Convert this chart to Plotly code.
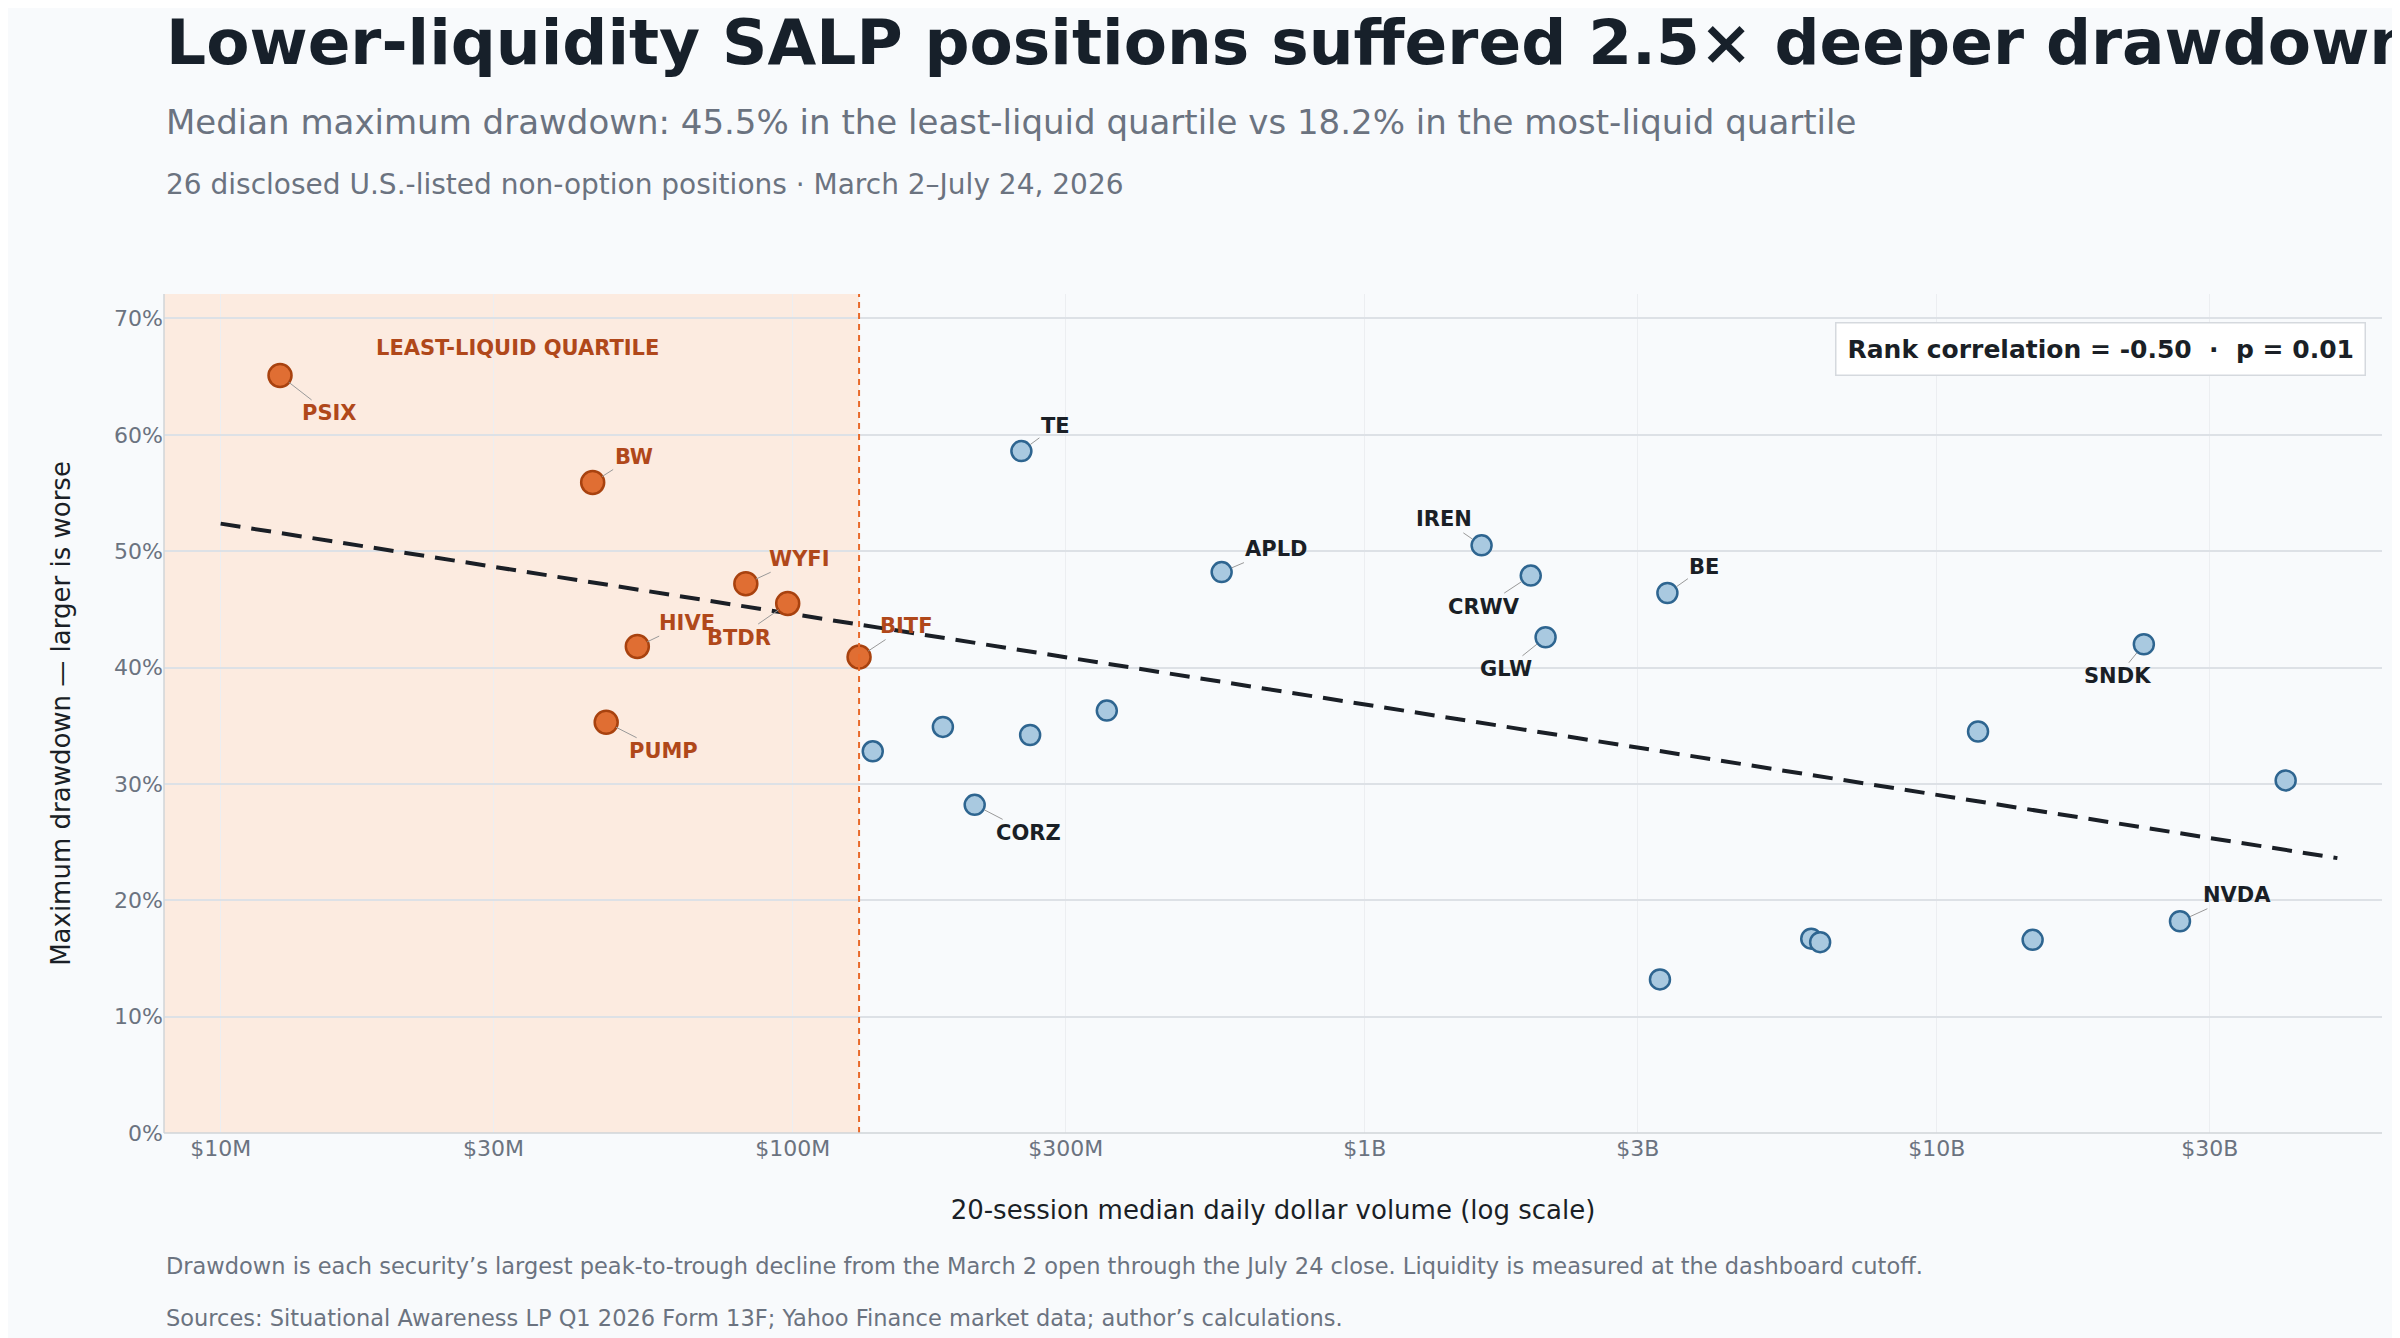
import numpy as np
import plotly.graph_objects as go

tickers_low = ["PSIX", "BW", "WYFI", "BTDR", "HIVE", "BITF", "PUMP"]
volume_low = [12.7e6, 44.7e6, 82.8e6, 98e6, 53.5e6, 130.6e6, 47.2e6]
drawdown_low = [65.1, 55.9, 47.2, 45.5, 41.8, 40.9, 35.3]

tickers_high = ["", "", "CORZ", "TE", "", "", "APLD", "IREN", "CRWV", "GLW", "", "BE",
                "", "", "", "", "SNDK", "NVDA", ""]
volume_high = [138e6, 183e6, 208e6, 251e6, 260e6, 354e6, 562e6, 1.60e9, 1.95e9, 2.07e9,
               3.28e9, 3.38e9, 6.03e9, 6.25e9, 11.8e9, 14.7e9, 23.0e9, 26.6e9, 40.7e9]
drawdown_high = [32.8, 34.9, 28.2, 58.6, 34.2, 36.3, 48.2, 50.5, 47.9, 42.6,
                 13.2, 46.4, 16.7, 16.4, 34.5, 16.6, 42.0, 18.2, 30.3]

label_offsets = {"PSIX": (49, 38), "BW": (41, -26), "WYFI": (54, -25), "BTDR": (-49, 34),
                 "HIVE": (50, -24), "BITF": (47, -31), "PUMP": (57, 29), "CORZ": (54, 28),
                 "TE": (34, -25), "APLD": (54, -23), "IREN": (-38, -26), "CRWV": (-47, 31),
                 "GLW": (-40, 32), "BE": (37, -26), "SNDK": (-26, 32), "NVDA": (57, -26)}

tick_vals = [1e7, 3e7, 1e8, 3e8, 1e9, 3e9, 1e10, 3e10]
tick_text = ["$10M", "$30M", "$100M", "$300M", "$1B", "$3B", "$10B", "$30B"]
y_ticks = [0, 10, 20, 30, 40, 50, 60, 70]
y_text = ["0%", "10%", "20%", "30%", "40%", "50%", "60%", "70%"]

cutoff = max(volume_low)

# trend line in log space
all_x = np.log10(volume_low + volume_high)
all_y = np.array(drawdown_low + drawdown_high)
slope, intercept = np.polyfit(all_x, all_y, 1)
trend_x = np.array([7.0, 10.7])
trend_y = slope * trend_x + intercept

fig = go.Figure()
fig.add_vrect(x0=10**6.8, x1=cutoff, fillcolor="#fcebe0", line_width=0, layer="below")
fig.add_vline(x=cutoff, line=dict(color="#e8692a", width=2, dash="6px,5px"))
fig.add_trace(go.Scatter(x=10**trend_x, y=trend_y, mode="lines",
                         line=dict(color="#1a1f26", width=4, dash="20px,11px"), showlegend=False))
fig.add_trace(go.Scatter(x=volume_high, y=drawdown_high, mode="markers", showlegend=False,
                         marker=dict(size=20, color="#a9c9e0", line=dict(color="#2e6590", width=2.5))))
fig.add_trace(go.Scatter(x=volume_low, y=drawdown_low, mode="markers", showlegend=False,
                         marker=dict(size=23, color="#e06e33", line=dict(color="#a8420f", width=2.5))))

for names, xs, ys, col in [(tickers_low, volume_low, drawdown_low, "#b0481a"),
                           (tickers_high, volume_high, drawdown_high, "#1a1f26")]:
    for n, xv, yv in zip(names, xs, ys):
        if not n:
            continue
        ax, ay = label_offsets[n]
        fig.add_annotation(x=np.log10(xv), y=yv, text="<b>%s</b>" % n, ax=ax, ay=ay,
                           showarrow=True, arrowhead=0, arrowwidth=1, arrowcolor="#999999",
                           standoff=11, font=dict(size=21, color=col))

fig.add_annotation(x=np.log10(3.3e7), y=67.5, text="<b>LEAST-LIQUID QUARTILE</b>", showarrow=False,
                   font=dict(size=21, color="#b0481a"))
fig.add_annotation(xref="paper", yref="paper", x=0.993, y=0.935, xanchor="right", yanchor="middle",
                   text="<b>Rank correlation = -0.50  ·  p = 0.01</b>", showarrow=False,
                   font=dict(size=25, color="#1a1f26"), bgcolor="#ffffff", bordercolor="#d5d9de",
                   borderwidth=1.5, borderpad=11)

fig.add_annotation(xref="paper", yref="paper", x=0, y=1.3, xanchor="left", yanchor="middle",
                   text="<b>Lower-liquidity SALP positions suffered 2.5× deeper drawdowns</b>",
                   showarrow=False, font=dict(size=63, color="#17202a"))
fig.add_annotation(xref="paper", yref="paper", x=0, y=1.205, xanchor="left", yanchor="middle",
                   text="Median maximum drawdown: 45.5% in the least-liquid quartile vs 18.2% in the most-liquid quartile",
                   showarrow=False, font=dict(size=34, color="#6b7380"))
fig.add_annotation(xref="paper", yref="paper", x=0, y=1.13, xanchor="left", yanchor="middle",
                   text="26 disclosed U.S.-listed non-option positions · March 2–July 24, 2026",
                   showarrow=False, font=dict(size=28, color="#6b7380"))
fig.add_annotation(xref="paper", yref="paper", x=0, y=-0.158, xanchor="left", yanchor="middle",
                   text="Drawdown is each security’s largest peak-to-trough decline from the March 2 open through the July 24 close. Liquidity is measured at the dashboard cutoff.",
                   showarrow=False, font=dict(size=22.5, color="#6b7380"))
fig.add_annotation(xref="paper", yref="paper", x=0, y=-0.22, xanchor="left", yanchor="middle",
                   text="Sources: Situational Awareness LP Q1 2026 Form 13F; Yahoo Finance market data; author’s calculations.",
                   showarrow=False, font=dict(size=22.5, color="#6b7380"))

fig.update_layout(
    width=2400, height=1338, margin=dict(l=156, r=26, t=286, b=213),
    paper_bgcolor="#f8fafc", plot_bgcolor="#f8fafc",
    font=dict(family="DejaVu Sans", color="#1a1f26"),
    xaxis=dict(type="log", range=[6.901, 10.778], tickvals=tick_vals, ticktext=tick_text,
               showgrid=True, gridcolor="#eceef1", zeroline=False, showline=False,
               tickfont=dict(size=22, color="#6b7380"), ticks="", ticklen=8,
               title=dict(text="20-session median daily dollar volume (log scale)",
                          font=dict(size=26, color="#1a1f26"), standoff=40)),
    yaxis=dict(range=[0, 72.1], tickvals=y_ticks, ticktext=y_text,
               showgrid=True, gridcolor="#dde1e6", gridwidth=1.5, zeroline=False,
               tickfont=dict(size=22, color="#6b7380"),
               title=dict(text="Maximum drawdown — larger is worse",
                          font=dict(size=26, color="#1a1f26"), standoff=35)),
)
fig.add_shape(type="line", xref="paper", yref="paper", x0=0, x1=1, y0=0, y1=0,
              line=dict(color="#d0d4d9", width=1.5))
fig.add_shape(type="line", xref="paper", yref="paper", x0=0, x1=0, y0=0, y1=1,
              line=dict(color="#d0d4d9", width=1.5))

fig.write_html("out.html")
